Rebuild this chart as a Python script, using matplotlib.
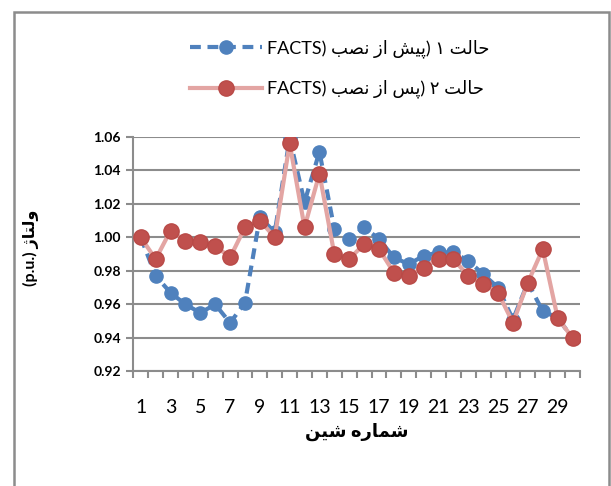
import matplotlib
matplotlib.use("Agg")
import matplotlib.pyplot as plt
from matplotlib.patches import Rectangle
from matplotlib.ticker import FixedLocator, MultipleLocator

plt.rcParams['font.family'] = ['Lato', 'DejaVu Sans']

# shaping table for the persian letters used (isolated, final, initial, medial)
FORMS = {
    'ا': ('\uFE8D', '\uFE8E', None, None),
    'ب': ('\uFE8F', '\uFE90', '\uFE91', '\uFE92'),
    'پ': ('\uFB56', '\uFB57', '\uFB58', '\uFB59'),
    'ت': ('\uFE95', '\uFE96', '\uFE97', '\uFE98'),
    'ح': ('\uFEA1', '\uFEA2', '\uFEA3', '\uFEA4'),
    'ر': ('\uFEAD', '\uFEAE', None, None),
    'ز': ('\uFEAF', '\uFEB0', None, None),
    'ژ': ('\uFB8A', '\uFB8B', None, None),
    'س': ('\uFEB1', '\uFEB2', '\uFEB3', '\uFEB4'),
    'ش': ('\uFEB5', '\uFEB6', '\uFEB7', '\uFEB8'),
    'ص': ('\uFEB9', '\uFEBA', '\uFEBB', '\uFEBC'),
    'ل': ('\uFEDD', '\uFEDE', '\uFEDF', '\uFEE0'),
    'م': ('\uFEE1', '\uFEE2', '\uFEE3', '\uFEE4'),
    'ن': ('\uFEE5', '\uFEE6', '\uFEE7', '\uFEE8'),
    'ه': ('\uFEE9', '\uFEEA', '\uFEEB', '\uFEEC'),
    'و': ('\uFEED', '\uFEEE', None, None),
    'ی': ('\uFBFC', '\uFBFD', '\uFBFE', '\uFBFF'),
}


def fa(text):
    out = []
    for i, ch in enumerate(text):
        if ch not in FORMS:
            out.append(ch)
            continue
        prev = text[i - 1] if i > 0 else ''
        nxt = text[i + 1] if i + 1 < len(text) else ''
        jp = prev in FORMS and FORMS[prev][2] is not None
        jn = FORMS[ch][2] is not None and nxt in FORMS
        iso, fin, ini, med = FORMS[ch]
        if jp and jn:
            out.append(med)
        elif jp:
            out.append(fin)
        elif jn:
            out.append(ini)
        else:
            out.append(iso)
    return ''.join(reversed(out))


buses = list(range(1, 31))
before = [1.000, 0.977, 0.967, 0.960, 0.955, 0.960, 0.949, 0.961, 1.012, 1.003,
          1.059, 1.021, 1.051, 1.005, 0.999, 1.006, 0.999, 0.988, 0.984, 0.989,
          0.991, 0.991, 0.986, 0.978, 0.970, 0.951, 0.973, 0.956, 0.952, 0.940]
after = [1.000, 0.987, 1.004, 0.998, 0.997, 0.995, 0.988, 1.006, 1.010, 1.000,
         1.056, 1.006, 1.038, 0.990, 0.987, 0.996, 0.993, 0.979, 0.977, 0.982,
         0.987, 0.987, 0.977, 0.972, 0.967, 0.949, 0.973, 0.993, 0.952, 0.940]
xtick_labels = [str(b) for b in range(1, 30, 2)]

label_before = "FACTS) " + fa("پیش از نصب") + ") \u06F1 " + fa("حالت")
label_after = "FACTS) " + fa("پس از نصب") + ") \u06F2 " + fa("حالت")

blue = '#4F81BD'
red = '#C0504D'
pink = '#E3A5A3'
grid = '#8C8C8C'

fig = plt.figure(figsize=(6.11, 4.86), dpi=100)
fig.patches.append(Rectangle((0.0229, -0.02), 0.9746, 0.9953, transform=fig.transFigure,
                             fill=False, edgecolor='#8C8C8C', linewidth=1.8))

ax = fig.add_axes([0.2182, 0.2356, 0.731, 0.4831])

l1, = ax.plot(buses, before, color=blue, linewidth=3, linestyle=(0, (2.6, 1.6)),
              marker='o', markersize=9.5, markerfacecolor=blue, markeredgecolor=blue,
              label=label_before, zorder=3)
l2, = ax.plot(buses, after, color=pink, linewidth=3,
              marker='o', markersize=11, markerfacecolor=red, markeredgecolor='#B94A47',
              label=label_after, zorder=4)

ax.set_xlim(0.5, 30.5)
ax.set_ylim(0.92, 1.06)
ax.yaxis.set_major_locator(MultipleLocator(0.02))
ax.yaxis.set_major_formatter(plt.FormatStrFormatter('%.2f'))
ax.xaxis.set_major_locator(FixedLocator(list(range(1, 30, 2))))
ax.set_xticklabels(xtick_labels, fontsize=14)
ax.xaxis.set_minor_locator(FixedLocator([i + 0.5 for i in range(0, 31)]))
ax.tick_params(axis='x', which='major', length=0, pad=20)
ax.tick_params(axis='x', which='minor', length=5, width=1.5, color=grid)
ax.tick_params(axis='y', length=5, width=1.5, color=grid, labelsize=10, pad=4)
for lbl in ax.get_yticklabels():
    lbl.set_fontweight('bold')

ax.grid(axis='y', color=grid, linewidth=1.5)
ax.set_axisbelow(True)
for side in ['top', 'right']:
    ax.spines[side].set_visible(False)
for side in ['left', 'bottom']:
    ax.spines[side].set_color(grid)
    ax.spines[side].set_linewidth(1.5)

ax.set_xlabel(fa("شماره شین"), fontsize=13, fontweight='bold', labelpad=5)
fig.text(0.05, 0.49, "(p.u.) " + fa("ولتاژ"), rotation=90, fontsize=11.5,
         fontweight='bold', ha='center', va='center')

fig.legend(handles=[l1, l2], loc='center', bbox_to_anchor=(0.556, 0.858),
           frameon=False, fontsize=13, handlelength=4.0, labelspacing=1.2,
           handletextpad=0.25)

fig.savefig('out.png', dpi=100)
